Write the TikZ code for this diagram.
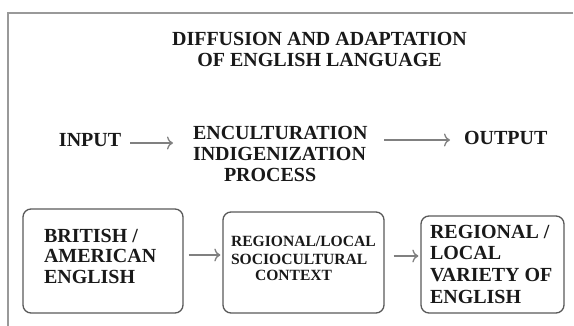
\documentclass[tikz,border=0pt]{standalone}
\usepackage{fontspec}
\setmainfont{Liberation Serif}
\usetikzlibrary{arrows.meta}
\begin{document}
\begin{tikzpicture}[x=1pt,y=-1pt,
  lbl/.style={inner sep=0pt, outer sep=0pt, align=left, text=black!90,
    font=\fontsize{20}{21}\selectfont\bfseries},
  lblsmall/.style={inner sep=0pt, outer sep=0pt, align=left, text=black!90,
    font=\fontsize{15.6}{17}\selectfont\bfseries},
  box/.style={draw=black!65, line width=1.3pt, rounded corners=8pt, inner sep=0pt},
  arr/.style={draw=black!50, line width=1.3pt,
    -{Computer Modern Rightarrow[length=6pt,width=13pt]}},
  frame/.style={draw=black!40, line width=2.5pt}]
\useasboundingbox (0,0) rectangle (574,326);
% frame
\coordinate (fTL) at (8,13);
\coordinate (fTR) at (573,13);
\coordinate (fBL) at (8,327);
\draw[frame] (fTR) -- (fTL) -- (fBL);
% title
\node[lbl, align=center, anchor=base] (title) at (319.5,67)
  {DIFFUSION AND ADAPTATION\\OF ENGLISH LANGUAGE};
% main row
\node[lbl, anchor=base west] (input) at (59,147) {INPUT};
\node[lbl, anchor=base west] (mid) at (193,182)
  {ENCULTURATION\\INDIGENIZATION\\\hspace*{31pt}PROCESS};
\node[lbl, anchor=base west] (output) at (464,145) {OUTPUT};
\coordinate (r0) at (0,143);
\coordinate (r0b) at (0,140);
\draw[arr, shorten <=9pt, shorten >=20pt] (input.east |- r0) -- (mid.west |- r0);
\draw[arr, shorten <=17pt, shorten >=14pt] (mid.east |- r0b) -- (output.west |- r0b);
% boxes
\node[box, minimum width=160pt, minimum height=104pt] (b1) at (103,261) {};
\node[box, minimum width=161pt, minimum height=101pt] (b2) at (303.5,262.5) {};
\node[box, minimum width=143pt, minimum height=97pt] (b3) at (492.5,264.5) {};
\node[lbl, anchor=base west] (t1) at (44,284) {BRITISH /\\AMERICAN\\ENGLISH};
\node[lblsmall, anchor=base west] (t2) at (231,281)
  {REGIONAL/LOCAL\\SOCIOCULTURAL\\\hspace*{24pt}CONTEXT};
\node[lbl, anchor=base west, font=\fontsize{20}{22}\selectfont\bfseries] (t3) at (430,304)
  {REGIONAL /\\LOCAL\\VARIETY OF\\ENGLISH};
\coordinate (r1) at (0,255);
\coordinate (r2) at (0,256);
\draw[arr, shorten <=5pt, shorten >=2pt] (b1.east |- r1) -- (b2.west |- r1);
\draw[arr, shorten <=9pt, shorten >=2pt] (b2.east |- r2) -- (b3.west |- r2);
\end{tikzpicture}
\end{document}
